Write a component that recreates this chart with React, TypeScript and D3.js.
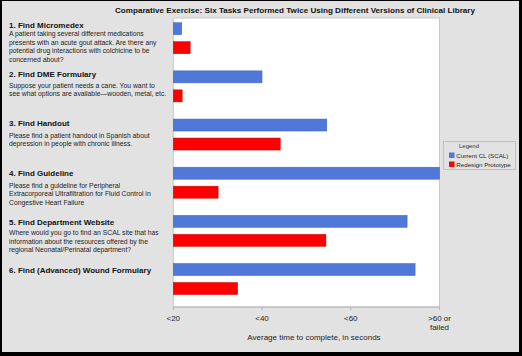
import React from "react";
import * as d3 from "d3";

const tasks = ["t1", "t2", "t3", "t4", "t5", "t6"];
const headings = [
  "1. Find Micromedex",
  "2. Find DME Formulary",
  "3. Find Handout",
  "4. Find Guideline",
  "5. Find Department Website",
  "6. Find (Advanced) Wound Formulary",
];
const descriptions: string[][] = [
  [
    "A patient taking several different medications",
    "presents with an acute gout attack. Are there any",
    "potential drug interactions with colchicine to be",
    "concerned about?",
  ],
  [
    "Suppose your patient needs a cane. You want to",
    "see what options are available\u2014wooden, metal, etc.",
  ],
  [
    "Please find a patient handout in Spanish about",
    "depression in people with chronic illness.",
  ],
  [
    "Please find a guideline for Peripheral",
    "Extracorporeal Ultrafiltration for Fluid Control in",
    "Congestive Heart Failure",
  ],
  [
    "Where would you go to find an SCAL site that has",
    "information about the resources offered by the",
    "regional Neonatal/Perinatal department?",
  ],
  [],
];
const seriesNames = ["Current CL (SCAL)", "Redesign Prototype"];
const currentCL = [21.9, 40.0, 54.6, 80.0, 72.7, 74.5];
const redesign = [23.8, 22.0, 44.1, 30.1, 54.4, 34.5];
const tickValues = [20, 40, 60, 80];
const tickLabels = [["<20"], ["<40"], ["<60"], [">60 or", "failed"]];
const title =
  "Comparative Exercise:  Six Tasks Performed Twice Using Different Versions of Clinical Library";
const xTitle = "Average time to complete, in seconds";

const colors = ["#4f78d8", "#ff0000"];
const strokes = ["#3d63c4", "#c40000"];

// layout offsets (positions only)
const headingBaselines = [28, 76.5, 126, 175.5, 224.5, 273];
const descFirstBaselines = [36, 87.5, 137.5, 187.5, 235, 0];
const descLineHeight = 8.7;

export default function App() {
  const W = 522;
  const H = 356;
  const plot = { left: 173.3, right: 439.5, top: 18, bottom: 307 };
  const x = d3.scaleLinear().domain([20, 80]).range([plot.left, plot.right]);
  const y0 = d3.scaleBand().domain(tasks).range([plot.top, plot.bottom]);
  const y1 = d3
    .scaleBand()
    .domain(seriesNames)
    .range([4.7, 35.7])
    .paddingInner(0.368);
  const seriesValues = [currentCL, redesign];
  const font = "'Liberation Sans', Arial, Helvetica, sans-serif";

  return (
    <svg
      width={W}
      height={H}
      style={{ position: "absolute", left: 0, top: 0, fontFamily: font }}
    >
      <rect x={0} y={0} width={W} height={H} fill="#000" />
      <rect x={2} y={1} width={517} height={351} fill="#e2e2e2" />
      <text
        x={295}
        y={13}
        textAnchor="middle"
        fontSize={8.1}
        fontWeight="bold"
        fill="#111"
      >
        {title}
      </text>

      {/* plot area */}
      <rect
        x={plot.left}
        y={plot.top}
        width={plot.right - plot.left}
        height={plot.bottom - plot.top}
        fill="#fff"
        stroke="#c9c9c9"
        strokeWidth={1}
      />

      {/* bars */}
      {tasks.map((t, i) => (
        <g key={t} transform={`translate(0,${y0(t)})`}>
          {seriesNames.map((s, j) => (
            <rect
              key={s}
              x={x(20)}
              y={y1(s)}
              width={x(seriesValues[j][i]) - x(20)}
              height={y1.bandwidth()}
              fill={colors[j]}
              stroke={strokes[j]}
              strokeWidth={0.5}
            />
          ))}
        </g>
      ))}

      {/* x axis */}
      <line
        x1={plot.left}
        x2={plot.right}
        y1={plot.bottom}
        y2={plot.bottom}
        stroke="#b5b5b5"
      />
      {tickValues.map((v, i) => (
        <g key={v}>
          <line
            x1={x(v)}
            x2={x(v)}
            y1={plot.bottom}
            y2={plot.bottom + 3}
            stroke="#b5b5b5"
          />
          {tickLabels[i].map((l, k) => (
            <text
              key={k}
              x={x(v)}
              y={320.5 + k * 9.6}
              textAnchor="middle"
              fontSize={8}
              fill="#222"
            >
              {l}
            </text>
          ))}
        </g>
      ))}
      <text x={314} y={339.5} textAnchor="middle" fontSize={8} fill="#222">
        {xTitle}
      </text>

      {/* left task descriptions */}
      {headings.map((h, i) => (
        <g key={h}>
          <text x={9} y={headingBaselines[i]} fontSize={8} fontWeight="bold" fill="#111">
            {h}
          </text>
          {descriptions[i].map((line, k) => (
            <text
              key={k}
              x={9}
              y={descFirstBaselines[i] + k * descLineHeight}
              fontSize={6.8}
              fill="#222"
            >
              {line}
            </text>
          ))}
        </g>
      ))}

      {/* legend */}
      <rect
        x={443.5}
        y={141.5}
        width={72}
        height={28}
        fill="none"
        stroke="#b8b8b8"
        strokeWidth={0.8}
      />
      <text x={469} y={147.5} textAnchor="middle" fontSize={6} fill="#333">
        Legend
      </text>
      {seriesNames.map((s, j) => (
        <g key={s}>
          <rect
            x={449}
            y={152.5 + j * 9}
            width={5.5}
            height={5.5}
            fill={colors[j]}
          />
          <text x={456.3} y={157.7 + j * 9} fontSize={6.2} fill="#222">
            {s}
          </text>
        </g>
      ))}
    </svg>
  );
}
